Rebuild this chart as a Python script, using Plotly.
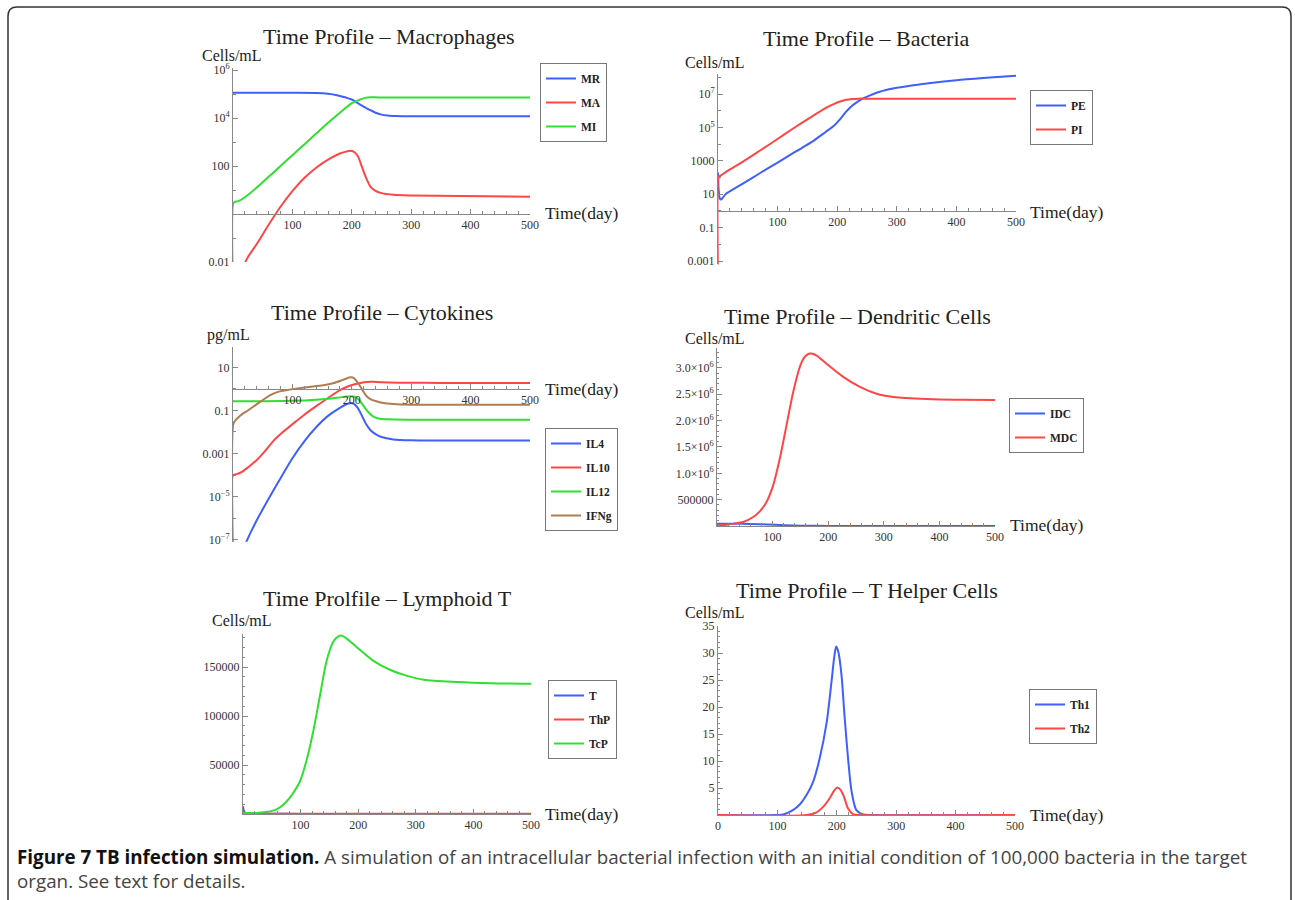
import plotly.graph_objects as go

W, H = 1295, 900
def px(x): return x / W
def py(y): return 1 - y / H

# ---------------- data ----------------
# Panel 1: Macrophages (cells/mL, log axis)
MR_days = [0, 100, 140, 160, 175, 190, 200, 210, 220, 230, 240, 250, 260, 275, 300, 500]
MR = [1.12e5, 1.12e5, 1.1e5, 1.02e5, 8.9e4, 7.1e4, 5.9e4, 4.2e4, 3.0e4, 2.2e4, 1.66e4, 1.38e4, 1.26e4, 1.2e4, 1.17e4, 1.17e4]
MA_days = [15, 25, 40, 60, 80, 100, 120, 140, 160, 180, 190, 197, 203, 210, 218, 225, 232, 240, 250, 270, 300, 500]
MA = [0.005, 0.0158, 0.056, 0.355, 2.0, 8.9, 31.6, 85, 186, 331, 398, 437, 398, 263, 79, 28.2, 13.2, 9.3, 7.4, 6.3, 5.9, 5.25]
MI_days = [0, 0.5, 3, 10, 20, 40, 60, 80, 100, 120, 140, 160, 180, 200, 212, 222, 232, 245, 300, 500]
MI = [1e-3, 2.8, 3.2, 3.5, 5.0, 12.6, 35.5, 100, 282, 794, 2240, 6310, 1.66e4, 4.17e4, 5.6e4, 6.9e4, 7.4e4, 7.2e4, 7.1e4, 7.1e4]

# Panel 2: Bacteria
PE_days = [0, 1, 3, 5, 8, 14, 30, 50, 70, 100, 130, 160, 180, 195, 205, 215, 225, 235, 245, 255, 270, 300, 325, 350, 400, 450, 500]
PE = [200, 20, 5.6, 4.8, 6.3, 11.2, 25, 66, 182, 794, 3550, 1.58e4, 5.25e4, 1.32e5, 3.16e5, 8.9e5, 2.0e6, 3.7e6, 5.9e6, 8.5e6, 1.35e7, 2.4e7, 3.24e7, 4.37e7, 6.9e7, 9.5e7, 1.26e8]
PI_days = [0, 0.5, 2, 14, 42, 70, 98, 126, 154, 182, 195, 205, 215, 225, 235, 250, 300, 500]
PI = [1e-4, 89, 112, 229, 912, 4070, 1.86e4, 8.7e4, 3.8e5, 1.55e6, 2.63e6, 3.63e6, 4.57e6, 5.13e6, 5.37e6, 5.37e6, 5.37e6, 5.37e6]

# Panel 3: Cytokines (pg/mL)
IL4_days = [20, 30, 40, 60, 80, 100, 120, 140, 160, 180, 190, 197, 203, 210, 218, 225, 232, 240, 250, 270, 300, 500]
IL4 = [5.6e-8, 2.2e-7, 7.9e-7, 7.9e-6, 7.1e-5, 6.0e-4, 3.7e-3, 0.0166, 0.056, 0.132, 0.19, 0.224, 0.209, 0.132, 0.05, 0.0209, 0.0117, 0.0079, 0.0058, 0.0045, 0.0041, 0.004]
IL10_days = [0, 0.3, 5, 15, 25, 40, 55, 70, 85, 100, 120, 140, 160, 180, 195, 205, 215, 225, 235, 250, 280, 350, 500]
IL10 = [1e-8, 1.0e-4, 1.07e-4, 1.41e-4, 2.24e-4, 5.0e-4, 1.41e-3, 4.4e-3, 0.0105, 0.0229, 0.063, 0.158, 0.38, 0.89, 1.38, 1.66, 1.91, 2.09, 2.14, 2.04, 1.95, 1.91, 1.91]
IL12_days = [0, 50, 100, 140, 165, 185, 198, 205, 212, 220, 228, 236, 245, 260, 300, 500]
IL12 = [0.27, 0.27, 0.28, 0.316, 0.363, 0.417, 0.457, 0.437, 0.316, 0.158, 0.083, 0.0525, 0.0427, 0.0389, 0.0372, 0.0372]
IFNg_days = [0, 0.3, 3, 11, 25, 39, 55, 67, 80, 95, 124, 152, 170, 185, 197, 203, 210, 218, 225, 232, 240, 253, 270, 300, 500]
IFNg = [1e-8, 0.022, 0.0316, 0.054, 0.1, 0.186, 0.38, 0.59, 0.79, 0.93, 1.2, 1.48, 1.9, 2.63, 3.47, 3.31, 2.0, 0.89, 0.457, 0.331, 0.275, 0.224, 0.2, 0.186, 0.186]

# Panel 4: Dendritic cells
IDC_days = [0, 30, 60, 90, 120, 150, 200, 300, 500]
IDC = [45000, 45000, 40000, 30000, 15000, 6000, 2000, 1000, 800]
MDC_days = [0, 17, 30, 47, 65, 77, 89, 101, 113, 125, 137, 149, 157, 165, 172, 180, 197, 227, 257, 287, 317, 377, 440, 500]
MDC = [10000, 25000, 45000, 76000, 171000, 278000, 456000, 772000, 1.28e6, 1.91e6, 2.54e6, 3.02e6, 3.2e6, 3.27e6, 3.27e6, 3.23e6, 3.08e6, 2.83e6, 2.64e6, 2.51e6, 2.45e6, 2.41e6, 2.395e6, 2.39e6]

# Panel 5: Lymphoid T
T_days = [0, 1, 3, 6, 10, 20, 50, 100, 200, 500]
T = [8000, 4000, 1500, 600, 300, 200, 150, 120, 100, 100]
ThP_days = [0, 100, 200, 300, 400, 500]
ThP = [300, 300, 300, 300, 300, 300]
TcP_days = [0, 23, 40, 52, 62, 70, 81, 90, 99, 110, 122, 134, 145, 157, 165, 172, 180, 198, 227, 256, 285, 314, 372, 430, 500]
TcP = [1000, 1000, 2000, 3400, 6000, 9500, 16400, 24000, 33400, 54000, 84500, 122000, 156000, 176000, 181000, 182000, 179000, 170000, 156000, 147000, 141000, 137000, 134700, 133500, 133000]

# Panel 6: T helper cells
Th1_days = [0, 100, 110, 126, 138, 149, 160, 171, 183, 191, 196, 199, 203, 208, 213, 219, 225, 233, 244, 260, 500]
Th1 = [0, 0, 0.1, 0.9, 2.0, 3.7, 6.1, 10.4, 17.2, 24.6, 29.5, 31.2, 30.0, 25.8, 18.4, 10.4, 4.3, 0.9, 0.1, 0, 0]
Th2_days = [0, 149, 166, 177, 188, 196, 201, 206, 211, 219, 228, 240, 500]
Th2 = [0, 0, 0.5, 1.5, 3.1, 4.6, 5.1, 4.7, 3.7, 1.2, 0.1, 0, 0]

# tick labels
X_TICKS = [100, 200, 300, 400, 500]
X_TICKS6 = [0, 100, 200, 300, 400, 500]
Y1_TICKS = [0.01, 100, 1e4, 1e6]
Y1_TEXT = ["0.01", "100", "10<sup>4</sup>", "10<sup>6</sup>"]
Y2_TICKS = [0.001, 0.1, 10, 1000, 1e5, 1e7]
Y2_TEXT = ["0.001", "0.1", "10", "1000", "10<sup>5</sup>", "10<sup>7</sup>"]
Y3_TICKS = [1e-7, 1e-5, 0.001, 0.1, 10]
Y3_TEXT = ["10<sup>\u22127</sup>", "10<sup>\u22125</sup>", "0.001", "0.1", "10"]
Y4_TICKS = [500000, 1.0e6, 1.5e6, 2.0e6, 2.5e6, 3.0e6]
Y4_TEXT = ["500000", "1.0\u00d710<sup>6</sup>", "1.5\u00d710<sup>6</sup>", "2.0\u00d710<sup>6</sup>",
           "2.5\u00d710<sup>6</sup>", "3.0\u00d710<sup>6</sup>"]
Y5_TICKS = [50000, 100000, 150000]
Y5_TEXT = ["50000", "100000", "150000"]
Y6_TICKS = [5, 10, 15, 20, 25, 30, 35]

TITLES = ["Time Profile \u2013 Macrophages", "Time Profile \u2013 Bacteria",
          "Time Profile \u2013 Cytokines", "Time Profile \u2013 Dendritic Cells",
          "Time Prolfile \u2013 Lymphoid T", "Time Profile \u2013 T Helper Cells"]
UNITS = ["Cells/mL", "Cells/mL", "pg/mL", "Cells/mL", "Cells/mL", "Cells/mL"]

# ---------------- styling ----------------
BLUE = "#3f5fff"
RED = "#ff4646"
GREEN = "#30e030"
BROWN = "#b07c52"
AX = "#888888"
SERIF = "Liberation Serif, Times New Roman, serif"
TICKFONT = dict(family=SERIF, size=12, color="#333333")

fig = go.Figure()
series = [
    (1, "MR", MR_days, MR, BLUE), (1, "MA", MA_days, MA, RED), (1, "MI", MI_days, MI, GREEN),
    (2, "PE", PE_days, PE, BLUE), (2, "PI", PI_days, PI, RED),
    (3, "IL4", IL4_days, IL4, BLUE), (3, "IL10", IL10_days, IL10, RED),
    (3, "IL12", IL12_days, IL12, GREEN), (3, "IFNg", IFNg_days, IFNg, BROWN),
    (4, "IDC", IDC_days, IDC, BLUE), (4, "MDC", MDC_days, MDC, RED),
    (5, "T", T_days, T, BLUE), (5, "ThP", ThP_days, ThP, RED), (5, "TcP", TcP_days, TcP, GREEN),
    (6, "Th1", Th1_days, Th1, BLUE), (6, "Th2", Th2_days, Th2, RED),
]
for i, name, xs, ys, col in series:
    s = "" if i == 1 else str(i)
    fig.add_trace(go.Scatter(
        x=xs, y=ys, mode="lines", name=name,
        line=dict(color=col, width=2, shape="spline", smoothing=0.8),
        xaxis="x" + s, yaxis="y" + s, legend="legend" + s,
        legendgroup=f"{name}{i}", hoverinfo="skip"))

# panel geometry in pixels
panels = [
    dict(x0=233, x1=530, yb=262, yt=67.6, log=True, yr=[-2, 6.1], xaxis_py=214,
         yt_vals=Y1_TICKS, yt_text=Y1_TEXT, ymin=[10.0 ** k for k in (-1, 1, 3, 5)], xt=X_TICKS),
    dict(x0=718, x1=1016, yb=264.4, yt=74.1, log=True, yr=[-3.2, 8.2], xaxis_py=211,
         yt_vals=Y2_TICKS, yt_text=Y2_TEXT, ymin=[10.0 ** k for k in (-2, 0, 2, 4, 6, 8)], xt=X_TICKS),
    dict(x0=233, x1=530, yb=541.7, yt=347, log=True, yr=[-7.1, 1.95], xaxis_py=389,
         yt_vals=Y3_TICKS, yt_text=Y3_TEXT, ymin=[10.0 ** k for k in (-6, -4, -2, 0, 1)], xt=X_TICKS),
    dict(x0=717, x1=995, yb=526, yt=347.9, log=False, yr=[0, 3.38e6],
         yt_vals=Y4_TICKS, yt_text=Y4_TEXT, mdt=100000, xt=X_TICKS),
    dict(x0=243, x1=531, yb=814, yt=633.7, log=False, yr=[0, 184000],
         yt_vals=Y5_TICKS, yt_text=Y5_TEXT, mdt=10000, xt=X_TICKS),
    dict(x0=718, x1=1015, yb=815, yt=626, log=False, yr=[0, 35],
         yt_vals=Y6_TICKS, yt_text=[str(v) for v in Y6_TICKS], mdt=1, xt=X_TICKS6),
]

layout = dict(width=W, height=H, autosize=False, margin=dict(l=0, r=0, t=0, b=0, autoexpand=False),
              paper_bgcolor="white", plot_bgcolor="white", annotations=[], shapes=[])

for k, p in enumerate(panels):
    s = "" if k == 0 else str(k + 1)
    xa = dict(domain=[px(p["x0"]), px(p["x1"])], range=[0, 500], showline=True, linecolor=AX,
              linewidth=1, ticks="inside", ticklen=5, tickcolor=AX, tickmode="array",
              tickvals=p["xt"], ticktext=[str(v) for v in p["xt"]], tickfont=TICKFONT,
              showgrid=False, zeroline=False, fixedrange=True, automargin=False,
              minor=dict(tick0=0, dtick=20, ticklen=3, tickcolor=AX, ticks="inside", showgrid=False))
    if p["log"]:
        xa.update(anchor="free", position=py(p["xaxis_py"]))
    else:
        xa.update(anchor="y" + s)
    ya = dict(domain=[py(p["yb"]), py(p["yt"])], range=p["yr"], anchor="x" + s, showline=True,
              linecolor=AX, linewidth=1, ticks="inside", ticklen=5, tickcolor=AX,
              tickmode="array", tickvals=p["yt_vals"], ticktext=p["yt_text"], tickfont=TICKFONT,
              showgrid=False, zeroline=False, fixedrange=True, automargin=False)
    if p["log"]:
        ya.update(type="log", minor=dict(tickmode="array", tickvals=p["ymin"], ticklen=3,
                                         tickcolor=AX, ticks="inside", showgrid=False))
    else:
        ya.update(minor=dict(tick0=0, dtick=p["mdt"], ticklen=2, tickcolor=AX, ticks="inside",
                             showgrid=False))
    layout["xaxis" + s] = xa
    layout["yaxis" + s] = ya

# legends (top-left corner in pixels)
leg_pos = [(540, 63), (1030, 90), (545, 428), (1009, 398), (548, 680), (1029, 689)]
for k, (lx, ly) in enumerate(leg_pos):
    s = "" if k == 0 else str(k + 1)
    layout["legend" + s] = dict(
        x=px(lx), y=py(ly), xanchor="left", yanchor="top", bgcolor="white",
        bordercolor="#777777", borderwidth=1, tracegroupgap=5, itemwidth=30,
        font=dict(family=SERIF, size=11.5, color="#222222", weight="bold"))

# titles, unit labels, axis labels
title_pos = [(389, 36), (867, 38), (382, 312), (857, 316), (387, 598), (867, 590)]
unit_pos = [(200, 55), (683, 62), (205, 335), (683, 338), (210, 620), (683, 612)]
time_pos = [(543, 213), (1028, 212), (543, 389), (1008, 525), (543, 814), (1028, 815)]
for k in range(6):
    tx, ty = title_pos[k]
    layout["annotations"].append(dict(
        text=TITLES[k], x=px(tx), y=py(ty), xref="paper", yref="paper", showarrow=False,
        xanchor="center", yanchor="middle", font=dict(family=SERIF, size=22, color="#222222")))
    ux, uy = unit_pos[k]
    layout["annotations"].append(dict(
        text=UNITS[k], x=px(ux), y=py(uy), xref="paper", yref="paper", showarrow=False,
        xanchor="left", yanchor="middle", font=dict(family=SERIF, size=16, color="#222222")))
    mx, my = time_pos[k]
    layout["annotations"].append(dict(
        text="Time(day)", x=px(mx), y=py(my), xref="paper", yref="paper", showarrow=False,
        xanchor="left", yanchor="middle", font=dict(family=SERIF, size=17.5, color="#222222")))

# caption (one two-line text block)
CAP_FONT = dict(family="Open Sans, Noto Sans, sans-serif", size=18.8, color="#444444")
layout["annotations"].append(dict(
    text="<b><span style='color:#111111'>Figure 7 TB infection simulation.</span></b> A simulation "
         "of an intracellular bacterial infection with an initial condition of 100,000 bacteria "
         "in the target<br>organ. See text for details.",
    x=px(15), y=py(868.5), xref="paper", yref="paper", showarrow=False, align="left",
    xanchor="left", yanchor="middle", font=CAP_FONT))

# rounded frame (open at the bottom, continues past the image edge)
r = 9
L, T0, R, B = 8, 7, 1291, 910
path = (f"M {px(L)},{py(B)} L {px(L)},{py(T0 + r)} Q {px(L)},{py(T0)} {px(L + r)},{py(T0)} "
        f"L {px(R - r)},{py(T0)} Q {px(R)},{py(T0)} {px(R)},{py(T0 + r)} L {px(R)},{py(B)}")
layout["shapes"].append(dict(type="path", path=path, xref="paper", yref="paper",
                             line=dict(color="#333333", width=1.5)))

fig.update_layout(**layout)
fig.write_html("out.html", config={"displayModeBar": False},
               post_script="document.body.style.margin='0px';document.body.style.overflow='hidden';")
